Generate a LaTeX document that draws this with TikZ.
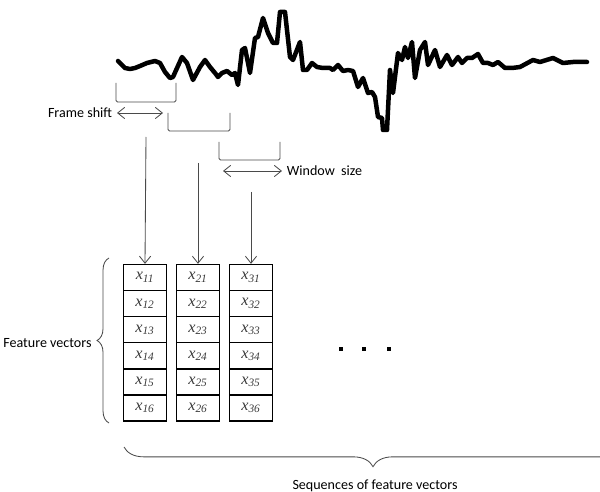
\documentclass[tikz,border=0pt]{standalone}
\usepackage{fontspec}
\setmainfont{Carlito}
\newfontfamily\cellfont{Liberation Serif}
\usetikzlibrary{arrows.meta,decorations.pathreplacing}
\definecolor{thinline}{HTML}{4A4A4A}
\definecolor{celltext}{HTML}{3A3A3A}

\begin{document}
\begin{tikzpicture}[x=0.025cm, y=-0.025cm, font=\fontsize{10}{12}\selectfont,
  wave/.style={line width=3.2pt, line join=round, line cap=round},
  window/.style={draw=thinline, line width=0.6pt, rounded corners=1pt},
  link/.style={draw=thinline, line width=0.6pt, -{Straight Barb[length=5pt,width=8pt]}},
  both/.style={draw=thinline, line width=0.6pt,
    {Straight Barb[length=5pt,width=8pt]}-{Straight Barb[length=5pt,width=8pt]}},
  cell/.style={draw, line width=0.9pt, minimum width=30.7pt, minimum height=18.5pt,
    inner sep=0pt, font=\cellfont\fontsize{11.5}{13}\selectfont\itshape, text=celltext},
  curly/.style={draw=thinline, line width=0.6pt, decorate, decoration={brace, amplitude=#1}}]
  \useasboundingbox (0,0) rectangle (600,492);

  % signal
  \draw[wave] plot coordinates {(118,61) (125,68) (130,69) (135,68) (140,66) (147,63)
    (155,61) (160,63) (165,72) (170,78) (173,77) (182,57) (187,63) (193,80) (200,67)
    (205,60) (210,67) (215,73) (218,77) (222,73) (227,71) (232,75) (235,73) (238,85)
    (242,50) (245,48) (250,73) (255,38) (258,37) (263,18) (268,33) (273,43) (277,43)
    (280,12) (285,12) (290,57) (293,60) (300,42) (303,70) (307,70) (312,63) (317,67)
    (323,68) (330,68) (333,70) (338,65) (343,71) (348,70) (353,71) (358,87) (363,78)
    (368,93) (372,92) (375,97) (378,117) (382,118) (383,130) (387,130) (390,70)
    (393,93) (398,53) (402,60) (405,47) (408,58) (412,42) (415,78) (420,50) (425,42)
    (428,65) (435,50) (440,67) (447,55) (452,65) (458,57) (462,63) (467,58) (472,58)
    (478,54) (483,63) (488,63) (493,65) (498,62) (505,68) (512,68) (520,67) (533,60)
    (540,62) (553,58) (563,63) (573,62) (587,62)};

  % analysis windows
  \draw[window] (116,83) |- (176,102) -- (176,83);
  \draw[window] (168,113) |- (230,131) -- (230,113);
  \draw[window] (219,142) |- (280,160) -- (280,142);

  \node[anchor=east] (shift) at (117,113) {Frame shift};
  \coordinate (shiftend) at (163,113);
  \draw[both] (shift.east) -- (shiftend);

  \node[anchor=west] (wsize) at (282,171) {Window\ \ size};
  \coordinate (wstart) at (223,171);
  \draw[both] (wstart) -- (wsize.west);

  % feature vectors
  \foreach \c/\cx in {1/145,2/198,3/251} {
    \foreach \r/\ry in {1/277.5,2/303.6,3/329.7,4/355.8,5/381.9,6/408} {
      \node[cell] (c\c\r) at (\cx,\ry) {x\textsubscript{\c\r}};
    }
  }

  \coordinate (from1) at (146,137);
  \coordinate (from2) at (198,163);
  \coordinate (from3) at (251,192);
  \foreach \c in {1,2,3}
    \draw[link] (from\c) -- (c\c1.north);

  \foreach \dx in {341,364,389}
    \fill (\dx-2,347.5) rectangle ++(4,4);

  \draw[curly=8.5pt] (109,423) -- (109,258);
  \node[anchor=east] (feat) at (96.5,343) {Feature vectors};

  \draw[curly=14pt] (622,447) -- (124,447);
  \node[anchor=base] (seq) at (375,489) {Sequences of feature vectors};
\end{tikzpicture}
\end{document}
